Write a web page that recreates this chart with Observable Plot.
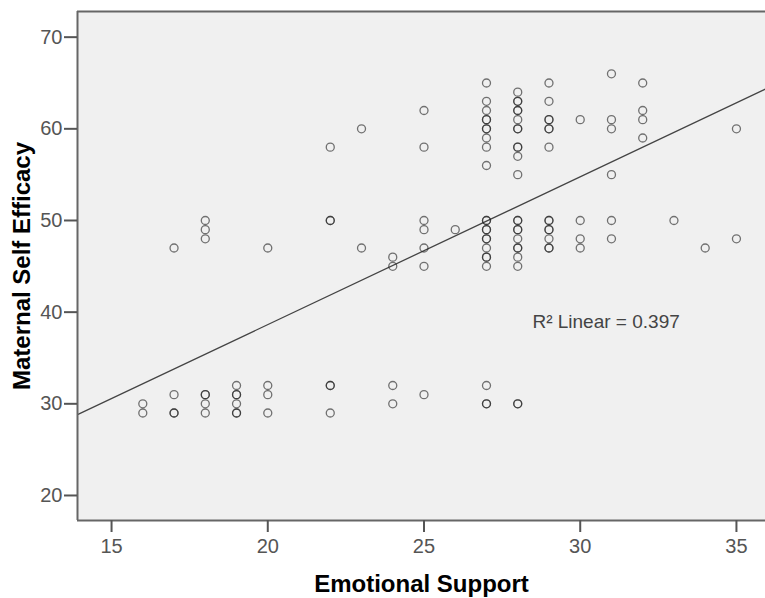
<!DOCTYPE html>
<html>
<head>
<meta charset="utf-8">
<script src="https://cdn.jsdelivr.net/npm/d3@7"></script>
<script src="https://cdn.jsdelivr.net/npm/@observablehq/plot@0.6"></script>
<style>
  html, body { margin: 0; padding: 0; background: #fff; overflow: hidden; }
  #chart svg { display: block; }
</style>
</head>
<body>
<div id="chart"></div>
<script>
// Emotional Support (x) values, one per point (repeated entries = overlapping points)
const emotionalSupport = [
  16,16,
  17,17,17,17,
  18,18,18,18,18,18,18,
  19,19,19,19,19,19,
  20,20,20,20,
  22,22,22,22,22,22,
  23,23,
  24,24,24,24,
  25,25,25,25,25,25,25,
  26,
  27,27,27,27,27,27,27,27,27,27,27,27,27,27,27,27,27,27,27,27,27,27,27,
  28,28,28,28,28,28,28,28,28,28,28,28,28,28,28,28,28,28,28,28,28,28,28,
  29,29,29,29,29,29,29,29,29,29,29,29,29,29,
  30,30,30,30,
  31,31,31,31,31,31,
  32,32,32,32,
  33,
  34,
  35,35
];
// Maternal Self Efficacy (y) values, parallel to emotionalSupport
const maternalSelfEfficacy = [
  30,29,
  47,31,29,29,
  50,49,48,31,31,30,29,
  32,31,31,30,29,29,
  47,32,31,29,
  58,50,50,32,32,29,
  60,47,
  46,45,32,30,
  62,58,50,49,47,45,31,
  49,
  65,63,62,61,61,60,60,59,58,56,50,50,49,49,48,48,47,46,46,45,32,30,30,
  64,63,63,62,62,61,60,60,58,58,57,55,50,50,49,49,48,47,47,46,45,30,30,
  65,63,61,61,60,60,58,50,50,49,49,48,47,47,
  61,50,48,47,
  66,61,60,55,50,48,
  65,62,61,59,
  50,
  47,
  60,48
];

const xTicks = [15, 20, 25, 30, 35];
const yTicks = [20, 30, 40, 50, 60, 70];
const xDomain = [13.91, 35.93];
const yDomain = [17.27, 72.8];
// Fit line: y = intercept + slope * x
const fitIntercept = 6.38;
const fitSlope = 1.613;
const r2Text = "R\u00B2 Linear = 0.397";
const r2Position = {x: 28.47, y: 38.9};
const xLabel = "Emotional Support";
const yLabel = "Maternal Self Efficacy";

const n = Math.min(emotionalSupport.length, maternalSelfEfficacy.length);
const points = d3.range(n).map(i => ({x: emotionalSupport[i], y: maternalSelfEfficacy[i]}));
const fitLine = xDomain.map(x => ({x, y: fitIntercept + fitSlope * x}));

const chart = Plot.plot({
  width: 765,
  height: 598,
  marginLeft: 77,
  marginRight: 0,
  marginTop: 11,
  marginBottom: 78,
  style: {fontFamily: "'Liberation Sans', Arial, sans-serif", background: "#fff", overflow: "visible"},
  x: {domain: xDomain},
  y: {domain: yDomain},
  marks: [
    Plot.frame({fill: "#f0f0f0", stroke: null}),
    Plot.line(fitLine, {x: "x", y: "y", stroke: "#444", strokeWidth: 1.3, clip: true}),
    Plot.dot(points, {x: "x", y: "y", r: 4, stroke: "#222", strokeOpacity: 0.62, strokeWidth: 1.3, fill: "none"}),
    Plot.text([r2Text], {x: () => r2Position.x, y: () => r2Position.y, text: d => d, textAnchor: "start", fontSize: 19, fill: "#444"}),
    Plot.ruleX([xDomain[0]], {stroke: "#666", strokeWidth: 2}),
    Plot.ruleY([yDomain[0], yDomain[1]], {stroke: "#666", strokeWidth: 2}),
    Plot.axisX({ticks: xTicks, tickSize: 12, tickPadding: 6, fontSize: 20, stroke: "#555", strokeWidth: 2, color: "#555", label: null, tickFormat: d => d}),
    Plot.axisY({ticks: yTicks, tickSize: 13, tickPadding: 2, fontSize: 20, stroke: "#555", strokeWidth: 2, color: "#555", label: null, tickFormat: d => d}),
    Plot.text([xLabel], {frameAnchor: "bottom", dy: 64, lineAnchor: "middle", textAnchor: "middle", text: d => d, fontSize: 24, fontWeight: "bold", fill: "#000"}),
    Plot.text([yLabel], {frameAnchor: "left", dx: -55, lineAnchor: "middle", textAnchor: "middle", rotate: -90, text: d => d, fontSize: 24, fontWeight: "bold", fill: "#000"})
  ]
});
document.getElementById("chart").append(chart);
</script>
</body>
</html>
